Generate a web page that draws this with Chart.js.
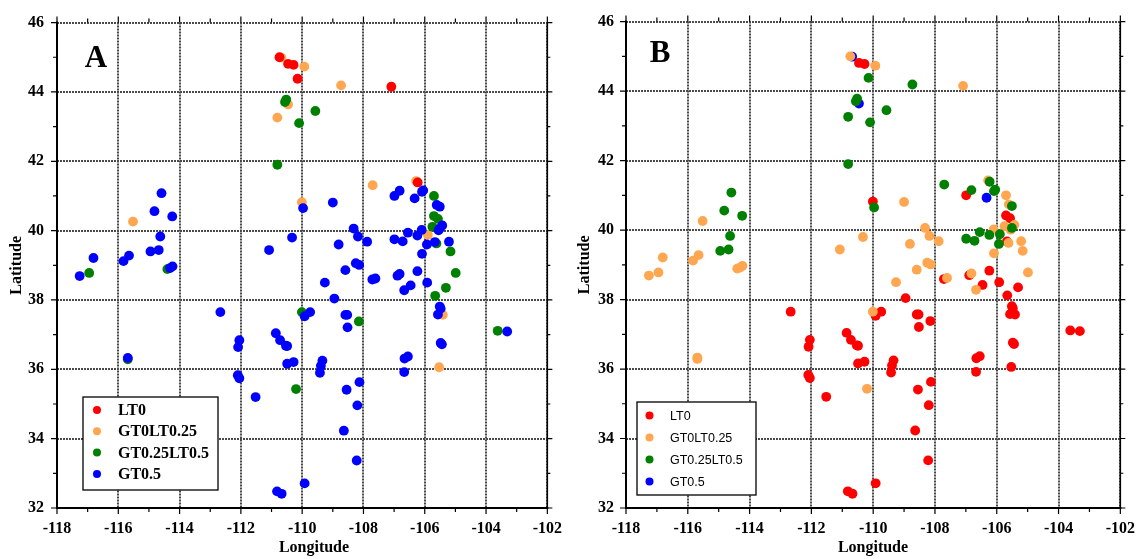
<!DOCTYPE html>
<html>
<head>
<meta charset="utf-8">
<title>Mapas A y B</title>
<script src="https://cdn.jsdelivr.net/npm/chart.js@4"></script>
<style>
    html, body { margin: 0; padding: 0; background: #fff; }
    #contenedor { display: flex; width: 1146px; height: 559px; }
    canvas { display: block; }
</style>
</head>
<body>
<div id="contenedor">
    <canvas id="graficoA" width="573" height="559"></canvas>
    <canvas id="graficoB" width="573" height="559"></canvas>
</div>
<script>
const lon = [
    -110.74, -110.68, -110.46, -110.28, -109.93, -110.15, -108.73, -107.09, -110.52, -110.56,
    -110.46, -109.57, -110.81, -110.10, -110.81, -107.70, -106.28, -106.23, -106.82, -106.99,
    -106.05, -106.09, -106.33, -105.70, -110.01, -109.97, -109.00, -105.61, -105.51, -105.70,
    -105.57, -105.75, -105.43, -105.51, -105.55, -106.10, -108.32, -106.55, -106.24, -105.90,
    -110.33, -108.18, -106.99, -106.72, -107.88, -108.81, -105.93, -105.67, -105.62, -105.21,
    -105.16, -106.09, -111.08, -108.25, -108.14, -108.59, -106.24, -104.99, -106.82, -106.89,
    -107.61, -107.71, -105.92, -109.26, -106.46, -106.67, -105.31, -108.95, -105.66, -105.51,
    -105.48, -105.57, -105.41, -110.01, -109.92, -109.74, -108.59, -108.53, -108.15, -108.52,
    -103.62, -103.31, -110.86, -110.72, -110.53, -110.49, -110.49, -110.28, -109.34, -109.39,
    -109.42, -106.66, -106.55, -106.67, -105.48, -105.44, -105.53, -110.20, -111.52, -108.13,
    -108.55, -108.20, -108.64, -108.22, -109.92, -110.82, -110.67, -112.67, -112.05, -112.09,
    -112.10, -112.05, -114.59, -114.82, -115.52, -114.24, -114.63, -114.68, -114.95, -116.81,
    -115.65, -115.83, -114.23, -114.31, -114.40, -116.95, -117.26, -115.69, -115.69
];
const lat = [
    45.00, 44.99, 44.81, 44.78, 44.73, 44.38, 44.19, 44.15, 43.78, 43.71,
    43.64, 43.45, 43.26, 43.10, 41.90, 41.31, 41.43, 41.39, 41.15, 41.00,
    41.16, 41.12, 40.93, 41.00, 40.82, 40.65, 40.81, 40.74, 40.69, 40.42,
    40.34, 40.11, 40.15, 40.06, 40.01, 40.02, 40.06, 39.94, 39.86, 39.88,
    39.80, 39.83, 39.75, 39.69, 39.68, 39.60, 39.60, 39.67, 39.63, 39.68,
    39.40, 39.33, 39.44, 39.06, 39.01, 38.86, 38.83, 38.78, 38.75, 38.70,
    38.62, 38.59, 38.50, 38.50, 38.42, 38.28, 38.35, 38.04, 38.12, 37.81,
    37.75, 37.58, 37.57, 37.65, 37.53, 37.65, 37.57, 37.57, 37.38, 37.21,
    37.11, 37.09, 37.04, 36.84, 36.68, 36.67, 36.16, 36.21, 36.25, 36.10,
    35.90, 36.31, 36.37, 35.92, 36.76, 36.72, 36.06, 35.43, 35.20, 35.63,
    35.41, 34.96, 34.23, 33.37, 32.71, 32.48, 32.41, 37.65, 36.84, 36.64,
    35.83, 35.74, 41.08, 40.56, 40.26, 40.41, 39.83, 39.44, 39.40, 39.21,
    39.28, 39.12, 38.97, 38.92, 38.89, 38.78, 38.69, 36.33, 36.29
];
// clase de cada estacion: 0 = LT0, 1 = GT0LT0.25, 2 = GT0.25LT0.5, 3 = GT0.5
const claseA = [
    0, 1, 0, 0, 1, 0, 1, 0, 2, 2,
    1, 2, 1, 2, 2, 1, 1, 0, 3, 3,
    3, 3, 3, 2, 1, 3, 3, 3, 3, 2,
    2, 2, 3, 3, 3, 3, 3, 3, 3, 1,
    3, 3, 3, 3, 3, 3, 3, 3, 2, 3,
    2, 3, 3, 3, 3, 3, 3, 2, 3, 3,
    3, 3, 3, 3, 3, 3, 2, 3, 2, 3,
    3, 3, 1, 2, 3, 3, 3, 3, 2, 3,
    2, 3, 3, 3, 3, 3, 3, 3, 3, 3,
    3, 3, 3, 3, 3, 3, 1, 2, 3, 3,
    3, 3, 3, 3, 3, 3, 3, 3, 3, 3,
    3, 3, 3, 3, 1, 3, 3, 3, 3, 3,
    3, 3, 3, 3, 2, 2, 3, 3, 2
];
const claseB = [
    1, 3, 0, 0, 1, 2, 2, 1, 2, 2,
    3, 2, 2, 2, 2, 2, 1, 2, 2, 0,
    2, 2, 3, 1, 0, 2, 1, 1, 2, 0,
    0, 1, 1, 2, 1, 1, 1, 2, 2, 2,
    1, 1, 2, 2, 1, 1, 2, 0, 1, 1,
    1, 1, 1, 1, 1, 1, 0, 1, 1, 0,
    1, 0, 0, 1, 0, 1, 0, 0, 0, 0,
    0, 0, 0, 1, 0, 0, 0, 0, 0, 0,
    0, 0, 0, 0, 0, 0, 0, 0, 0, 0,
    0, 0, 0, 0, 0, 0, 0, 1, 0, 0,
    0, 0, 0, 0, 0, 0, 0, 0, 0, 0,
    0, 0, 2, 2, 1, 2, 2, 2, 2, 1,
    1, 1, 1, 1, 1, 1, 1, 1, 1
];
const etiquetas = ["LT0", "GT0LT0.25", "GT0.25LT0.5", "GT0.5"];
const lonMin = -118, lonMax = -102, latMin = 32, latMax = 46;

const colores = ["#ff0000", "#ffa650", "#008000", "#0000ff"];
const serif = '"Liberation Serif", "Times New Roman", serif';

// estilo de cada panel (pixeles dentro de su canvas)
const estiloA = {
    letra: "A", izq: 57, der: 555, arriba: 11, abajo: 508, padY: 13,
    orden: [1, 3, 2, 0],
    lonX: 314, latX: 17,
    letraX: 39, letraY: 36,
    leyenda: { x: 26, y: 111, ancho: 135, alto: 93, puntoX: 14, textoX: 35, fila0: 13, paso: 21.3,
               fuente: "bold 16px " + serif, radio: 4 }
};
const estiloB = {
    letra: "B", izq: 53, der: 550, arriba: 15, abajo: 508, padY: 12,
    orden: [2, 1, 0, 3],
    lonX: 300, latX: 12,
    letraX: 34, letraY: 32,
    leyenda: { x: 11, y: 106, ancho: 119, alto: 93, puntoX: 12.5, textoX: 33, fila0: 13.5, paso: 22,
               fuente: '12.5px "Liberation Sans", Arial, sans-serif', radio: 4 }
};

function armarDatasets(clases, orden) {
    return etiquetas.map((etiqueta, c) => ({
        label: etiqueta,
        data: lon.map((x, i) => ({ x: x, y: lat[i], c: clases[i] })).filter(p => p.c === c),
        backgroundColor: colores[c],
        borderWidth: 0,
        pointRadius: 4.9,
        pointHoverRadius: 4.9,
        order: orden[c]
    }));
}

const marco = {
    id: "marco",
    afterDraw(chart) {
        const e = chart.options.plugins.marco.estilo;
        const { ctx, chartArea: a } = chart;
        const x = chart.scales.x, y = chart.scales.y;
        ctx.save();

        // ejes y borde
        ctx.strokeStyle = "#000";
        ctx.lineWidth = 2;
        ctx.beginPath();
        ctx.moveTo(a.left, a.top - 1);
        ctx.lineTo(a.left, a.bottom);
        ctx.lineTo(a.right + 1, a.bottom);
        ctx.stroke();
        ctx.lineWidth = 1.5;
        ctx.beginPath();
        ctx.moveTo(a.right, a.top);
        ctx.lineTo(a.right, a.bottom);
        ctx.stroke();

        // marcas en los cuatro lados
        ctx.lineWidth = 1.2;
        ctx.beginPath();
        for (let v = lonMin; v <= lonMax; v++) {
            const px = x.getPixelForValue(v);
            const largo = v % 2 === 0 ? 6 : 4;
            ctx.moveTo(px, a.bottom); ctx.lineTo(px, a.bottom + largo);
            ctx.moveTo(px, a.top); ctx.lineTo(px, a.top - largo);
        }
        for (let v = latMin; v <= latMax; v++) {
            const py = y.getPixelForValue(v);
            const largo = v % 2 === 0 ? 6 : 4;
            ctx.moveTo(a.left, py); ctx.lineTo(a.left - largo, py);
            ctx.moveTo(a.right, py); ctx.lineTo(a.right + largo - 1, py);
        }
        ctx.stroke();

        // titulos de los ejes
        ctx.fillStyle = "#000";
        ctx.font = "bold 16px " + serif;
        ctx.textAlign = "center";
        ctx.textBaseline = "alphabetic";
        ctx.fillText("Longitude", e.lonX, 552);
        ctx.save();
        ctx.translate(e.latX, (a.top + a.bottom) / 2);
        ctx.rotate(-Math.PI / 2);
        ctx.textBaseline = "middle";
        ctx.fillText("Latitude", 0, 0);
        ctx.restore();

        // letra del panel
        ctx.font = "bold 31px " + serif;
        ctx.textBaseline = "middle";
        ctx.fillText(e.letra, a.left + e.letraX, a.top + e.letraY);

        // leyenda
        const l = e.leyenda;
        const lx = a.left + l.x, ly = a.bottom - l.y;
        ctx.fillStyle = "#fff";
        ctx.fillRect(lx, ly, l.ancho, l.alto);
        ctx.strokeStyle = "#000";
        ctx.lineWidth = 1.3;
        ctx.strokeRect(lx, ly, l.ancho, l.alto);
        ctx.font = l.fuente;
        ctx.textAlign = "left";
        chart.data.datasets.forEach((ds, i) => {
            const fy = ly + l.fila0 + i * l.paso;
            ctx.fillStyle = ds.backgroundColor;
            ctx.beginPath();
            ctx.arc(lx + l.puntoX, fy, l.radio, 0, Math.PI * 2);
            ctx.fill();
            ctx.fillStyle = "#000";
            ctx.fillText(ds.label, lx + l.textoX, fy + 1);
        });
        ctx.restore();
    }
};

function crearPanel(idCanvas, clases, e) {
    const canvas = document.getElementById(idCanvas);
    const fuenteTicks = { family: serif, size: 16, weight: "bold" };
    const rejilla = { color: "#4a4a4a", lineWidth: 2, drawTicks: false };
    return new Chart(canvas, {
        type: "scatter",
        data: { datasets: armarDatasets(clases, e.orden) },
        options: {
            responsive: false,
            animation: false,
            events: [],
            layout: { padding: { top: e.arriba, right: canvas.width - e.der, left: 0, bottom: 0 } },
            plugins: {
                legend: { display: false },
                tooltip: { enabled: false },
                marco: { estilo: e }
            },
            scales: {
                x: {
                    type: "linear",
                    min: lonMin, max: lonMax,
                    ticks: { stepSize: 2, color: "#000", font: fuenteTicks, padding: 11, maxRotation: 0 },
                    grid: rejilla,
                    border: { display: false, dash: [2, 1] },
                    afterFit: s => { s.height = canvas.height - e.abajo; }
                },
                y: {
                    type: "linear",
                    min: latMin, max: latMax,
                    ticks: { stepSize: 2, color: "#000", font: fuenteTicks, padding: e.padY },
                    grid: rejilla,
                    border: { display: false, dash: [2, 1] },
                    afterFit: s => { s.width = e.izq; }
                }
            }
        },
        plugins: [marco]
    });
}

crearPanel("graficoA", claseA, estiloA);
crearPanel("graficoB", claseB, estiloB);
</script>
</body>
</html>
